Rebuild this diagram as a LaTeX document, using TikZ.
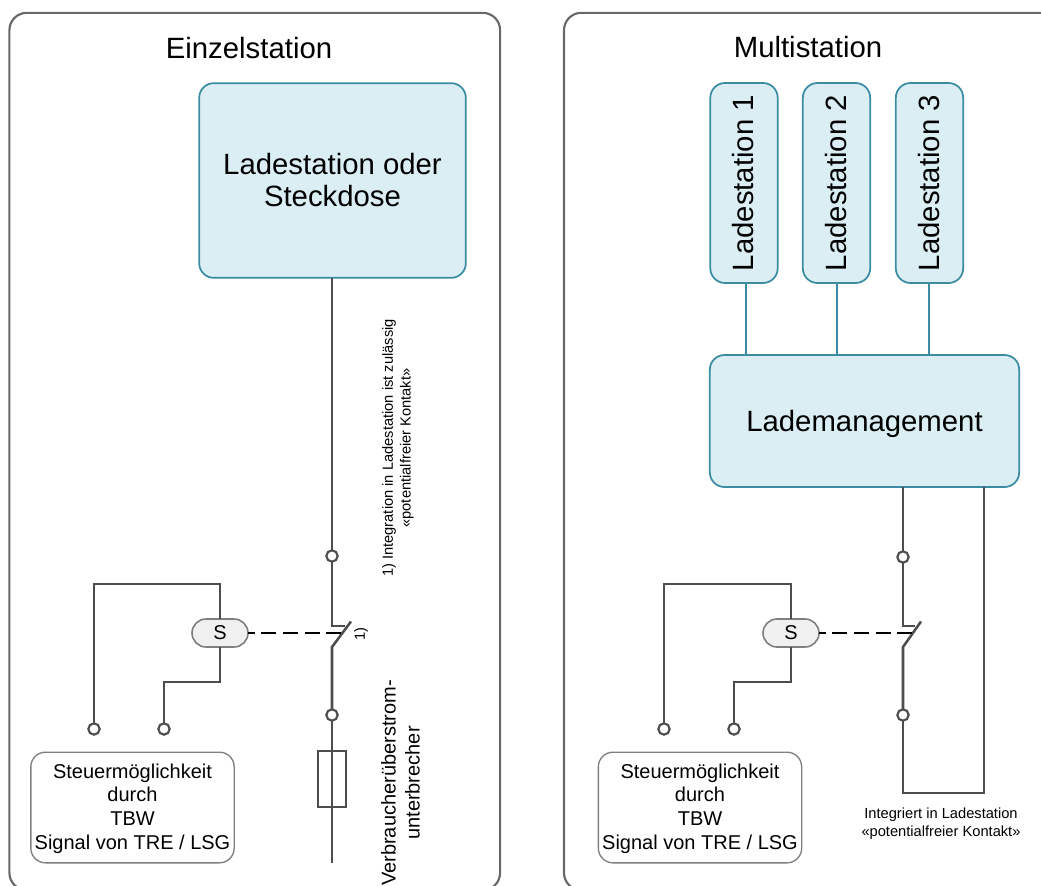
\documentclass[tikz,border=0pt]{standalone}
\usepackage{fontspec}
\setmainfont{Liberation Sans}
\definecolor{tealline}{HTML}{3B8CA3}
\definecolor{tealfill}{HTML}{DAEEF3}
\definecolor{wiregray}{HTML}{4D4D4D}
\definecolor{boxgray}{HTML}{7F7F7F}
\begin{document}
\begin{tikzpicture}
            [x=0.75pt, y=-0.75pt,
            panel/.style={draw=wiregray!85, line width=1.6pt, rounded corners=13pt, minimum width=368pt, minimum height=658pt, inner sep=0pt, outer sep=0pt},
            title/.style={inner sep=0pt, font=\fontsize{22}{26}\selectfont},
            station/.style={draw=tealline, fill=tealfill, line width=1.3pt, rounded corners=11pt, inner sep=0pt, outer sep=0pt, align=center, font=\fontsize{22}{24}\selectfont},
            control/.style={draw=boxgray, line width=1pt, rounded corners=11pt, minimum width=152.5pt, minimum height=83pt, inner sep=0pt, outer sep=0pt, align=center, text depth=1.7pt, font=\fontsize{15}{17.8}\selectfont},
            relay/.style={draw=boxgray, fill=black!6, line width=1.2pt, rounded corners=10.5pt, minimum width=42pt, minimum height=21pt, inner sep=0pt, outer sep=0pt, font=\fontsize{15}{18}\selectfont},
            terminal/.style={circle, draw=wiregray, fill=white, line width=1.6pt, minimum size=8.5pt, inner sep=0pt, outer sep=0pt},
            fuse/.style={draw=wiregray, line width=1.6pt, minimum width=21pt, minimum height=42pt, inner sep=0pt, outer sep=0pt},
            note/.style={inner sep=0pt, align=center, font=\fontsize{11}{13.3}\selectfont},
            wire/.style={wiregray, line width=1.9pt},
            link/.style={tealline, line width=1.7pt},
            operate/.style={black, line width=1.3pt, dash pattern=on 11.25pt off 5pt, dash phase=6.25pt}]

            \useasboundingbox (0,0) rectangle (1041,885);
            \clip (0,0) rectangle (1041,885);

            % Einzelstation
            \node[panel] (panelA) at (254.75,451.5) {};
            \node[title] (titleA) at (249,48) {Einzelstation};
            \node[station, minimum width=200pt, minimum height=146pt] (chargerA) at (332.5,180.5) {Ladestation oder\\Steckdose};
            \node[terminal] (upperA) at (332,556) {};
            \node[terminal] (lowerA) at (332,715) {};
            \node[fuse] (fuseA) at (332,779) {};
            \node[relay] (relayA) at (220,633) {S};
            \node[terminal] (leftA) at (94,729) {};
            \node[terminal] (rightA) at (164,729) {};
            \node[control] (controlA) at (132.5,807.5) {Steuermöglichkeit\\durch\\TBW\\Signal von TRE / LSG};
            \node[note, rotate=90] (noteA) at (398,448) {1) Integration in Ladestation ist zulässig\\«potentialfreier Kontakt»};
            \node[inner sep=0pt, rotate=90, font=\fontsize{11}{13}\selectfont] (markA) at (361,634) {1)};
            \node[rotate=90, inner sep=0pt, align=center, font=\fontsize{15}{18}\selectfont] (breakerA) at (400.5,783) {Verbraucherüberstrom-\\unterbrecher};

            \coordinate (hingeA) at (332,626);
            \coordinate (latchA) at (345,626);
            \coordinate (bladeA) at (351,621.5);
            \coordinate (footA) at (332,647);
            \coordinate (endA) at (332,863);
            \coordinate (dashA) at (346,633);
            \coordinate (topA) at (94,584);
            \coordinate (stepA) at (164,682);

            \draw[wire] (upperA |- chargerA.south) -- (upperA);
            \draw[wire] (upperA) -- (hingeA) -- (latchA);
            \draw[wire] (bladeA) -- (footA) -- (lowerA);
            \draw[wire] (lowerA) -- (endA);
            \draw[wire] (relayA.north) |- (topA) -- (leftA);
            \draw[wire] (relayA.south) |- (stepA) -- (rightA);
            \draw[operate] (relayA.east) -- (dashA);

            % Multistation
            \node[panel, minimum width=372pt] (panelB) at (812,451.5) {};
            \node[title] (titleB) at (808,47) {Multistation};
            \node[station, rotate=90, text depth=1.5pt, minimum width=150pt, minimum height=50.5pt] (chargerB) at (744,183) {Ladestation 1};
            \node[station, rotate=90, text depth=1.5pt, minimum width=150pt, minimum height=50.5pt] (chargerC) at (836.5,183) {Ladestation 2};
            \node[station, rotate=90, text depth=1.5pt, minimum width=150pt, minimum height=50.5pt] (chargerD) at (929.5,183) {Ladestation 3};
            \node[station, text depth=0pt, minimum width=232pt, minimum height=99pt] (manager) at (864.5,421) {Lademanagement};
            \node[terminal] (upperB) at (903,557) {};
            \node[terminal] (lowerB) at (903,715) {};
            \node[relay] (relayB) at (791,633) {S};
            \node[terminal] (leftB) at (664,729) {};
            \node[terminal] (rightB) at (734,729) {};
            \node[control] (controlB) at (700,807.5) {Steuermöglichkeit\\durch\\TBW\\Signal von TRE / LSG};
            \node[note] (noteB) at (941,824) {Integriert in Ladestation\\«potentialfreier Kontakt»};

            \coordinate (hingeB) at (903,626);
            \coordinate (latchB) at (915,626);
            \coordinate (bladeB) at (921,621.5);
            \coordinate (footB) at (903,647);
            \coordinate (cornerB) at (903,793);
            \coordinate (cornerC) at (984,793);
            \coordinate (dashB) at (916,633);
            \coordinate (topB) at (664,584);
            \coordinate (stepB) at (734,682);
            \coordinate (tapB) at (746,300);
            \coordinate (tapC) at (837,300);
            \coordinate (tapD) at (929,300);

            \draw[link] (tapB |- chargerB.west) -- (tapB |- manager.north);
            \draw[link] (tapC |- chargerC.west) -- (tapC |- manager.north);
            \draw[link] (tapD |- chargerD.west) -- (tapD |- manager.north);
            \draw[wire] (upperB |- manager.south) -- (upperB);
            \draw[wire] (upperB) -- (hingeB) -- (latchB);
            \draw[wire] (bladeB) -- (footB) -- (lowerB);
            \draw[wire] (lowerB) -- (cornerB) -- (cornerC) -- (cornerC |- manager.south);
            \draw[wire] (relayB.north) |- (topB) -- (leftB);
            \draw[wire] (relayB.south) |- (stepB) -- (rightB);
            \draw[operate] (relayB.east) -- (dashB);

        \end{tikzpicture}
\end{document}
